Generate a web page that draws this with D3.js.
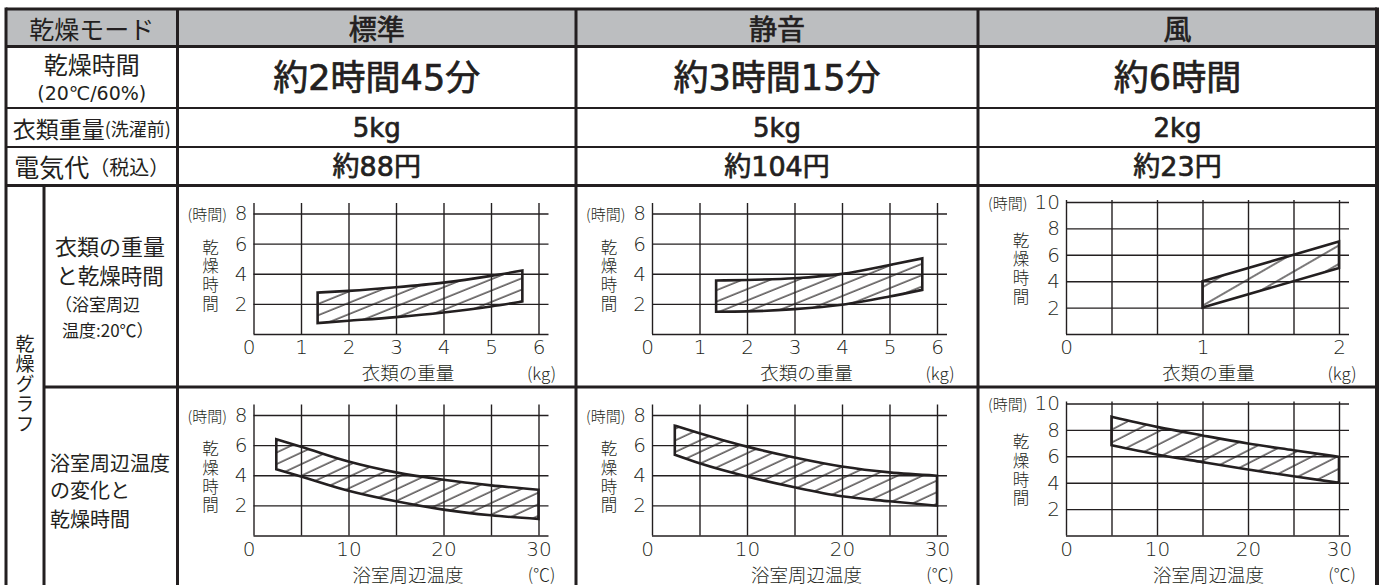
<!DOCTYPE html>
<html>
<head>
<meta charset="utf-8">
<script src="https://cdn.jsdelivr.net/npm/d3@7"></script>
<style>
    body { margin: 0; background: #fff; }
    svg text { fill: #231f20; font-family: "DejaVu Sans", "Noto Sans CJK JP", sans-serif; }
    .jp { font-family: "Noto Sans CJK JP", sans-serif; }
    .thin { font-weight: 300; }
    .mid { stroke: #231f20; stroke-width: 0.7px; }
    .vert { writing-mode: vertical-rl; text-orientation: upright; }
</style>
</head>
<body>
<svg id="chart" width="1386" height="585"></svg>
<script>
// table texts
let modes = ["標準", "静音", "風"];
let dryTimes = ["約2時間45分", "約3時間15分", "約6時間"];
let loads = ["5kg", "5kg", "2kg"];
let costs = ["約88円", "約104円", "約23円"];

// drying time vs clothes weight (kg -> hours)
let stdWeightKg = [1.35, 2, 3, 4, 5, 5.66];
let stdWeightHi = [2.75, 2.86, 3.1, 3.41, 3.86, 4.21];
let stdWeightLo = [0.73, 0.88, 1.12, 1.43, 1.83, 2.16];
let quietWeightKg = [1.35, 2, 3, 4, 5, 5.69];
let quietWeightHi = [3.55, 3.59, 3.7, 3.99, 4.58, 5.02];
let quietWeightLo = [1.48, 1.5, 1.65, 1.94, 2.49, 2.93];
let windWeightKg = [1, 2];
let windWeightHi = [4, 7];
let windWeightLo = [2, 5];

// drying time vs bathroom temperature (°C -> hours)
let stdTempC = [2.4, 5, 10, 15, 20, 25, 30];
let stdTempHi = [6.39, 5.9, 4.91, 4.19, 3.7, 3.33, 3.04];
let stdTempLo = [4.4, 3.92, 2.97, 2.27, 1.72, 1.34, 1.1];
let quietTempC = [2.4, 5, 10, 15, 20, 25, 30];
let quietTempHi = [7.29, 6.79, 5.9, 5.18, 4.58, 4.19, 3.97];
let quietTempLo = [5.36, 4.8, 3.92, 3.2, 2.6, 2.27, 1.98];
let windTempC = [5, 10, 15, 20, 25, 30];
let windTempHi = [9, 8.23, 7.58, 6.97, 6.46, 5.96];
let windTempLo = [6.84, 6.14, 5.56, 5.0, 4.49, 3.99];

// ticks and grid
let kgTicks = [0, 1, 2, 3, 4, 5, 6];
let windKgTicks = [0, 1, 2];
let windKgGrid = [0, 1/3, 2/3, 1, 4/3, 5/3, 2];
let tempTicks = [0, 10, 20, 30];
let tempGrid = [0, 5, 10, 15, 20, 25, 30];
let hourTicks8 = [2, 4, 6, 8];
let hourGrid8 = [0, 2, 4, 6, 8];
let hourTicks10 = [2, 4, 6, 8, 10];
let hourGrid10 = [0, 2, 4, 6, 8, 10];

let chart = d3.select("#chart");
let ink = "#231f20";

// table layout
let colX = [6, 177.5, 576, 978, 1377];
let rowY = [9, 46.5, 108, 147, 185.5, 387, 600];
let colMid = function(i) { return (colX[i + 1] + colX[i + 2]) / 2; };

chart.append("rect")
    .attr("x", colX[0]).attr("y", rowY[0])
    .attr("width", colX[4] - colX[0]).attr("height", rowY[1] - rowY[0])
    .attr("fill", "#bcbec0");

// ---------- graphs ----------
let defs = chart.append("defs");

let graphs = [
    { col: 0, row: 0, xs: stdWeightKg, hi: stdWeightHi, lo: stdWeightLo, xMax: 6, yMax: 8,
      xGrid: kgTicks, xTicks: kgTicks, yGrid: hourGrid8, yTicks: hourTicks8, xLabel: "衣類の重量", unit: "(kg)", curve: d3.curveMonotoneX, ang: 22, gap: 10.5 },
    { col: 1, row: 0, xs: quietWeightKg, hi: quietWeightHi, lo: quietWeightLo, xMax: 6, yMax: 8,
      xGrid: kgTicks, xTicks: kgTicks, yGrid: hourGrid8, yTicks: hourTicks8, xLabel: "衣類の重量", unit: "(kg)", curve: d3.curveMonotoneX, ang: 22, gap: 10.5 },
    { col: 2, row: 0, xs: windWeightKg, hi: windWeightHi, lo: windWeightLo, xMax: 2, yMax: 10,
      xGrid: windKgGrid, xTicks: windKgTicks, yGrid: hourGrid10, yTicks: hourTicks10, xLabel: "衣類の重量", unit: "(kg)", curve: d3.curveLinear, ang: 30, gap: 16 },
    { col: 0, row: 1, xs: stdTempC, hi: stdTempHi, lo: stdTempLo, xMax: 30, yMax: 8,
      xGrid: tempGrid, xTicks: tempTicks, yGrid: hourGrid8, yTicks: hourTicks8, xLabel: "浴室周辺温度", unit: "(℃)", curve: d3.curveMonotoneX, ang: 25, gap: 10.5 },
    { col: 1, row: 1, xs: quietTempC, hi: quietTempHi, lo: quietTempLo, xMax: 30, yMax: 8,
      xGrid: tempGrid, xTicks: tempTicks, yGrid: hourGrid8, yTicks: hourTicks8, xLabel: "浴室周辺温度", unit: "(℃)", curve: d3.curveMonotoneX, ang: 25, gap: 10.5 },
    { col: 2, row: 1, xs: windTempC, hi: windTempHi, lo: windTempLo, xMax: 30, yMax: 10,
      xGrid: tempGrid, xTicks: tempTicks, yGrid: hourGrid10, yTicks: hourTicks10, xLabel: "浴室周辺温度", unit: "(℃)", curve: d3.curveMonotoneX, ang: 27, gap: 11.5 }
];

graphs.forEach(function(g, i) {
    let left = colX[g.col + 1];
    let top = rowY[4 + g.row] + 0.5;
    let wide = g.yMax == 10;
    let x0 = left + (wide ? 88 : 76);
    let x1 = left + 361;
    let y0 = top + 148;
    let yTop = top + (wide ? 16 : 27.5);
    let gridTop = top + (wide ? 14 : 17);

    let x = d3.scaleLinear().domain([0, g.xMax]).range([x0, x1]);
    let y = d3.scaleLinear().domain([0, g.yMax]).range([y0, yTop]);

    let grp = chart.append("g");

    // grid: vertical lines
    grp.append("g")
        .attr("transform", "translate(0," + y0 + ")")
        .call(d3.axisBottom(x).tickValues(g.xGrid).tickSize(-(y0 - gridTop)).tickFormat(""))
        .call(function(a) { a.select(".domain").remove(); })
        .selectAll("line").attr("stroke", ink).attr("stroke-width", 1.4);

    // grid: horizontal lines
    grp.append("g")
        .attr("transform", "translate(" + x0 + ",0)")
        .call(d3.axisLeft(y).tickValues(g.yGrid).tickSize(-(x1 - x0 + 10)).tickFormat(""))
        .call(function(a) { a.select(".domain").remove(); })
        .selectAll("line").attr("stroke", ink).attr("stroke-width", 1.4);

    // x tick labels
    let xa = grp.append("g")
        .attr("transform", "translate(0," + y0 + ")")
        .call(d3.axisBottom(x).tickValues(g.xTicks).tickSize(0).tickPadding(6).tickFormat(d3.format("d")));
    xa.select(".domain").remove();
    xa.selectAll("text")
        .attr("class", "thin")
        .style("font-size", "20px")
        .attr("fill", ink)
        .attr("dx", function(d) { return (d == 0 && !wide) ? -5 : 0; });

    // y tick labels
    let ya = grp.append("g")
        .attr("transform", "translate(" + x0 + ",0)")
        .call(d3.axisLeft(y).tickValues(g.yTicks).tickSize(0).tickPadding(6).tickFormat(d3.format("d")));
    ya.select(".domain").remove();
    ya.selectAll("text")
        .attr("class", "thin")
        .style("font-size", "20px")
        .attr("fill", ink);

    // hatch pattern
    let pat = defs.append("pattern")
        .attr("id", "hatch" + i)
        .attr("patternUnits", "userSpaceOnUse")
        .attr("width", 10)
        .attr("height", g.gap)
        .attr("patternTransform", "rotate(-" + g.ang + ")");
    pat.append("line")
        .attr("x1", 0).attr("x2", 10)
        .attr("y1", 2).attr("y2", 2)
        .attr("stroke", ink)
        .attr("stroke-width", 1.2);

    // band
    let band = g.xs.map(function(v, k) { return { x: v, hi: g.hi[k], lo: g.lo[k] }; });
    grp.append("path")
        .datum(band)
        .attr("fill", "url(#hatch" + i + ")")
        .attr("stroke", ink)
        .attr("stroke-width", 2.6)
        .attr("stroke-linejoin", "miter")
        .attr("d", d3.area()
            .x(function(d) { return x(d.x); })
            .y0(function(d) { return y(d.lo); })
            .y1(function(d) { return y(d.hi); })
            .curve(g.curve));

    // (時間)
    grp.append("text")
        .attr("class", "jp thin")
        .attr("x", left + 10)
        .attr("y", y(g.yMax))
        .attr("dominant-baseline", "central")
        .style("font-size", "15px")
        .text("(時間)");

    // vertical y title
    grp.append("text")
        .attr("class", "jp thin vert")
        .attr("x", left + (wide ? 43 : 33))
        .attr("y", top + (wide ? 46 : 53))
        .style("font-size", "16.5px")
        .style("letter-spacing", "2.3px")
        .text("乾燥時間");

    // x title and unit
    grp.append("text")
        .attr("class", "jp thin")
        .attr("x", (x0 + x1) / 2 + (wide ? 6 : 12))
        .attr("y", top + 186)
        .attr("text-anchor", "middle")
        .attr("dominant-baseline", "central")
        .style("font-size", "18.5px")
        .text(g.xLabel);
    grp.append("text")
        .attr("class", "jp thin")
        .attr("x", x1 + 3)
        .attr("y", top + 186)
        .attr("text-anchor", "middle")
        .attr("dominant-baseline", "central")
        .style("font-size", "17px")
        .text(g.unit);
});

// ---------- table texts ----------
chart.append("text")
    .attr("class", "jp")
    .attr("x", (colX[0] + colX[1]) / 2).attr("y", 28)
    .attr("text-anchor", "middle").attr("dominant-baseline", "central")
    .style("font-size", "25px")
    .text("乾燥モード");

chart.selectAll("modes")
    .data(modes).enter().append("text")
    .attr("class", "jp mid")
    .attr("x", function(d, i) { return colMid(i); }).attr("y", 28)
    .attr("text-anchor", "middle").attr("dominant-baseline", "central")
    .style("font-size", "28px")
    .text(function(d) { return d; });

chart.append("text")
    .attr("class", "jp")
    .attr("x", (colX[0] + colX[1]) / 2).attr("y", 63)
    .attr("text-anchor", "middle").attr("dominant-baseline", "central")
    .style("font-size", "24px")
    .text("乾燥時間");
chart.append("text")
    .attr("x", (colX[0] + colX[1]) / 2).attr("y", 93)
    .attr("text-anchor", "middle").attr("dominant-baseline", "central")
    .style("font-size", "19px")
    .text("(20℃/60%)");

chart.selectAll("times")
    .data(dryTimes).enter().append("text")
    .attr("class", "mid")
    .attr("x", function(d, i) { return colMid(i); }).attr("y", 78)
    .attr("text-anchor", "middle").attr("dominant-baseline", "central")
    .style("font-size", "35px")
    .text(function(d) { return d; });

let loadLabel = chart.append("text")
    .attr("class", "jp")
    .attr("x", (colX[0] + colX[1]) / 2).attr("y", 128)
    .attr("text-anchor", "middle").attr("dominant-baseline", "central")
    .style("font-size", "23px");
loadLabel.append("tspan").text("衣類重量");
loadLabel.append("tspan").style("font-size", "18px").text("(洗濯前)");

chart.selectAll("loads")
    .data(loads).enter().append("text")
    .attr("class", "mid")
    .attr("x", function(d, i) { return colMid(i); }).attr("y", 128)
    .attr("text-anchor", "middle").attr("dominant-baseline", "central")
    .style("font-size", "26px")
    .text(function(d) { return d; });

let costLabel = chart.append("text")
    .attr("class", "jp")
    .attr("x", (colX[0] + colX[1]) / 2).attr("y", 166)
    .attr("text-anchor", "middle").attr("dominant-baseline", "central")
    .style("font-size", "25px");
costLabel.append("tspan").text("電気代");
costLabel.append("tspan").style("font-size", "20px").text("（税込）");

chart.selectAll("costs")
    .data(costs).enter().append("text")
    .attr("class", "mid")
    .attr("x", function(d, i) { return colMid(i); }).attr("y", 166)
    .attr("text-anchor", "middle").attr("dominant-baseline", "central")
    .style("font-size", "27px")
    .text(function(d) { return d; });

// left column of graph rows
chart.append("text")
    .attr("class", "jp vert")
    .attr("x", 25)
    .attr("y", 334)
    .style("font-size", "19px")
    .style("letter-spacing", "1px")
    .text("乾燥グラフ");

let block1 = [["衣類の重量", 110, 245, 22, "middle"], ["と乾燥時間", 110, 274, 21.5, "middle"],
              ["（浴室周辺", 55, 303, 17, "start"], ["温度:20℃）", 62, 329, 17, "start"]];
chart.selectAll("block1")
    .data(block1).enter().append("text")
    .attr("class", "jp")
    .attr("x", function(d) { return d[1]; })
    .attr("y", function(d) { return d[2]; })
    .attr("text-anchor", function(d) { return d[4]; })
    .attr("dominant-baseline", "central")
    .style("font-size", function(d) { return d[3] + "px"; })
    .text(function(d) { return d[0]; });

let block2 = [["浴室周辺温度", 462], ["の変化と", 489], ["乾燥時間", 518]];
chart.selectAll("block2")
    .data(block2).enter().append("text")
    .attr("class", "jp")
    .attr("x", 50)
    .attr("y", function(d) { return d[1]; })
    .attr("dominant-baseline", "central")
    .style("font-size", "20px")
    .text(function(d) { return d[0]; });

// ---------- table lines ----------
let lines = [
    [colX[0], rowY[0], colX[4], rowY[0], 3],
    [colX[0], rowY[1], colX[4], rowY[1], 3],
    [colX[0], rowY[2], colX[4], rowY[2], 2],
    [colX[0], rowY[3], colX[4], rowY[3], 2],
    [colX[0], rowY[4], colX[4], rowY[4], 3],
    [44, rowY[5], colX[4], rowY[5], 3],
    [colX[0], rowY[0] - 1.5, colX[0], 585, 3],
    [colX[1], rowY[0], colX[1], 585, 3],
    [colX[2], rowY[0], colX[2], 585, 3],
    [colX[3], rowY[0], colX[3], 585, 3],
    [colX[4], rowY[0] - 1.5, colX[4], 585, 4],
    [44, rowY[4], 44, 585, 3]
];
chart.selectAll("tline")
    .data(lines).enter().append("line")
    .attr("x1", function(d) { return d[0]; })
    .attr("y1", function(d) { return d[1]; })
    .attr("x2", function(d) { return d[2]; })
    .attr("y2", function(d) { return d[3]; })
    .attr("stroke", ink)
    .attr("stroke-width", function(d) { return d[4]; });
</script>
</body>
</html>
